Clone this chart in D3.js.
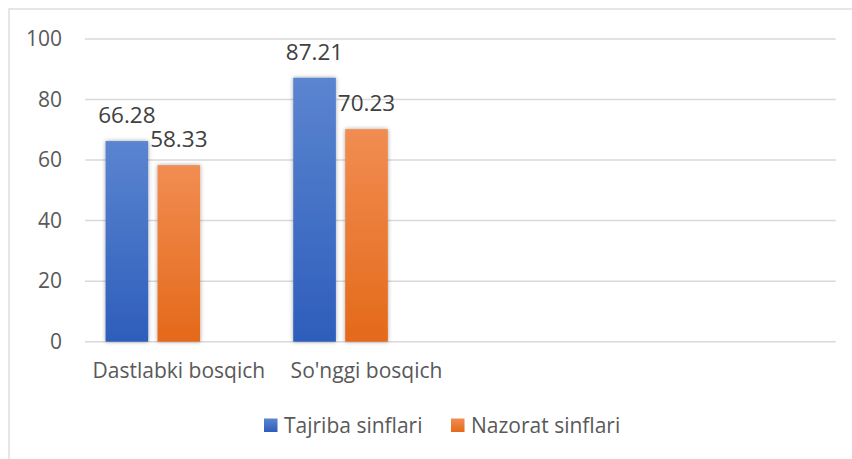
<!DOCTYPE html>
<html>
<head>
<meta charset="utf-8">
<script src="https://cdn.jsdelivr.net/npm/d3@7"></script>
<style>
  body { margin: 0; background: #fff; }
  svg text { font-family: "Open Sans", sans-serif; fill: #595959; }
</style>
</head>
<body>
<div id="chart"></div>
<script>
// categories (the last two slots are empty in the original)
var categories = ["Dastlabki bosqich", "So'nggi bosqich", "", " "];
var seriesNames = ["Tajriba sinflari", "Nazorat sinflari", "empty"];
var tajriba = [66.28, 87.21, null, null];
var nazorat = [58.33, 70.23, null, null];
var yTicks = [0, 20, 40, 60, 80, 100];

var W = 852, H = 459;
var margin = { top: 39, right: 16.3, bottom: 117.3, left: 85 },
    width = W - margin.left - margin.right,
    height = H - margin.top - margin.bottom;

var svgRoot = d3.select("#chart").append("svg")
    .attr("width", W)
    .attr("height", H);

// gradients + soft shadow like the office chart
var defs = svgRoot.append("defs");
var gradBlue = defs.append("linearGradient").attr("id", "gBlue")
    .attr("x1", 0).attr("y1", 0).attr("x2", 0).attr("y2", 1);
gradBlue.append("stop").attr("offset", "0%").attr("stop-color", "#5b85d0");
gradBlue.append("stop").attr("offset", "100%").attr("stop-color", "#2e5dbb");
var gradOrange = defs.append("linearGradient").attr("id", "gOrange")
    .attr("x1", 0).attr("y1", 0).attr("x2", 0).attr("y2", 1);
gradOrange.append("stop").attr("offset", "0%").attr("stop-color", "#f18d52");
gradOrange.append("stop").attr("offset", "100%").attr("stop-color", "#e4691a");

var shadow = defs.append("filter").attr("id", "shadow")
    .attr("x", "-30%").attr("y", "-10%").attr("width", "160%").attr("height", "120%");
shadow.append("feDropShadow")
    .attr("dx", 0).attr("dy", 0).attr("stdDeviation", 2.2)
    .attr("flood-color", "#000").attr("flood-opacity", 0.35);

// outer frame
svgRoot.append("rect")
    .attr("x", 9).attr("y", 9)
    .attr("width", W + 20).attr("height", H + 20)
    .attr("fill", "none")
    .attr("stroke", "#d9d9d9")
    .attr("stroke-width", 1.3);

var svg = svgRoot.append("g")
    .attr("transform", "translate(" + margin.left + "," + margin.top + ")");

var x0 = d3.scaleBand()
    .domain(categories)
    .range([0, width])
    .paddingInner(0.219)
    .paddingOuter(0.1095);

var x1 = d3.scaleBand()
    .domain(seriesNames)
    .range([0, x0.bandwidth()])
    .paddingInner(0.179);

var y = d3.scaleLinear()
    .domain([0, 100])
    .range([height, 0]);

// gridlines
svg.append("g")
    .selectAll("line")
    .data(yTicks)
    .enter()
    .append("line")
    .attr("x1", 0)
    .attr("x2", width)
    .attr("y1", function (d) { return y(d); })
    .attr("y2", function (d) { return y(d); })
    .attr("stroke", "#d9d9d9")
    .attr("stroke-width", 1.5);

// y axis labels
var yAxis = svg.append("g")
    .call(d3.axisLeft(y).tickValues(yTicks).tickSize(0).tickPadding(23));
yAxis.select(".domain").remove();
yAxis.selectAll("text")
    .style("font-size", "21px")
    .style("font-family", "Open Sans, sans-serif")
    .attr("fill", "#595959");

// x axis labels
var xAxis = svg.append("g")
    .attr("transform", "translate(0," + height + ")")
    .call(d3.axisBottom(x0).tickSize(0).tickPadding(21));
xAxis.select(".domain").remove();
xAxis.selectAll("text")
    .style("font-size", "21px")
    .style("font-family", "Open Sans, sans-serif")
    .attr("fill", "#595959");

var series = [
    { name: seriesNames[0], values: tajriba, fill: "url(#gBlue)" },
    { name: seriesNames[1], values: nazorat, fill: "url(#gOrange)" }
];

series.forEach(function (s) {
    var pts = s.values.map(function (v, i) { return { cat: categories[i], v: v }; })
        .filter(function (d) { return d.v != null; });

    svg.append("g")
        .selectAll("rect")
        .data(pts)
        .enter()
        .append("rect")
        .attr("x", function (d) { return x0(d.cat) + x1(s.name); })
        .attr("y", function (d) { return y(d.v); })
        .attr("width", x1.bandwidth())
        .attr("height", function (d) { return height - y(d.v); })
        .attr("fill", s.fill)
        .attr("filter", "url(#shadow)");

    svg.append("g")
        .selectAll("text")
        .data(pts)
        .enter()
        .append("text")
        .attr("x", function (d) { return x0(d.cat) + x1(s.name) + x1.bandwidth() / 2; })
        .attr("y", function (d) { return y(d.v) - 18; })
        .attr("text-anchor", "middle")
        .style("font-size", "22.5px")
        .style("fill", "#404040")
        .text(function (d) { return d.v.toFixed(2); });
});

// legend
var legend = svgRoot.append("g");
var legendItems = [
    { name: seriesNames[0], fill: "url(#gBlue)", x: 264 },
    { name: seriesNames[1], fill: "url(#gOrange)", x: 451 }
];
legendItems.forEach(function (it) {
    legend.append("rect")
        .attr("x", it.x).attr("y", 418.5)
        .attr("width", 13.5).attr("height", 13.5)
        .attr("fill", it.fill);
    legend.append("text")
        .attr("x", it.x + 20)
        .attr("y", 433)
        .style("font-size", "21px")
        .text(it.name);
});
</script>
</body>
</html>
